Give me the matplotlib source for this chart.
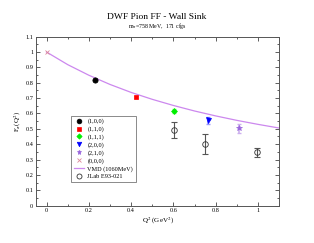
import matplotlib
matplotlib.use("Agg")
import matplotlib.pyplot as plt
from matplotlib.ticker import MultipleLocator, FixedLocator

plt.rcParams['font.family'] = ['Liberation Serif', 'DejaVu Serif']
plt.rcParams['mathtext.fontset'] = 'stix'

# Lattice data: (momentum label, Q2, F, err)
labels = ["(1,0,0)", "(1,1,0)", "(1,1,1)", "(2,0,0)", "(2,1,0)", "(0,0,0)"]
q2_lat = [0.231, 0.425, 0.601, 0.762, 0.908, 0.0]
f_lat = [0.820, 0.707, 0.618, 0.555, 0.503, 1.0]
err_lat = [0.006, 0.006, 0.012, 0.022, 0.028, 0.0]
colors = ["#000000", "#ff0000", "#00ee00", "#0000ff", "#9966dd", "#dd8899"]
err_colors = ["#888888", "#ff9999", "#88ff88", "#9999ff", "#ccb0ee", "#eebbcc"]
markers = ["o", "s", "D", "v", "*", "x"]
msizes = [3.8, 3.2, 3.0, 3.6, 4.0, 3.0]

# VMD curve (1060 MeV) values read at Q2 points
q2_vmd = [0.0, 0.1, 0.2, 0.3, 0.4, 0.5, 0.6, 0.7, 0.8, 0.9, 1.0, 1.1]
f_vmd = [1.0, 0.918, 0.849, 0.789, 0.737, 0.692, 0.652, 0.616, 0.584, 0.555, 0.529, 0.505]

# JLab E93-021
q2_jlab = [0.601, 0.748, 0.997]
f_jlab = [0.490, 0.404, 0.347]
err_jlab = [0.052, 0.065, 0.030]

xticks = [0, 0.2, 0.4, 0.6, 0.8, 1.0]
xticklabels = ["0", "0.2", "0.4", "0.6", "0.8", "1"]
yticks = [0, 0.1, 0.2, 0.3, 0.4, 0.5, 0.6, 0.7, 0.8, 0.9, 1.0, 1.1]
yticklabels = ["0", "0.1", "0.2", "0.3", "0.4", "0.5", "0.6", "0.7", "0.8", "0.9", "1", "1.1"]

fig = plt.figure(figsize=(3.14, 2.43), dpi=100)
ax = fig.add_axes([0.1146, 0.154, 0.7744, 0.695])

handles = []
for i in range(len(labels)):
    if err_lat[i] > 0:
        ax.errorbar(q2_lat[i], f_lat[i], yerr=err_lat[i], fmt='none',
                    ecolor=err_colors[i], elinewidth=1.2, capsize=1.5, capthick=1.0, zorder=3)
    h, = ax.plot(q2_lat[i], f_lat[i], linestyle='none', marker=markers[i],
                 color=colors[i], markersize=msizes[i], markeredgewidth=0.6 if markers[i] == 'x' else 0.5,
                 zorder=4, label=labels[i])
    handles.append(h)

hv, = ax.plot(q2_vmd, f_vmd, color="#cc88ee", linewidth=0.9, zorder=2, label="VMD (1060MeV)")
handles.append(hv)

ax.errorbar(q2_jlab, f_jlab, yerr=err_jlab, fmt='none', ecolor="#555555",
            elinewidth=0.8, capsize=2, capthick=0.8, zorder=3)
hj, = ax.plot(q2_jlab, f_jlab, linestyle='none', marker='o', markerfacecolor='none',
              markeredgecolor="#333333", markersize=4, markeredgewidth=0.6, zorder=4,
              label="JLab E93-021")
handles.append(hj)

ax.set_xlim(-0.05, 1.1)
ax.set_ylim(0, 1.1)
ax.xaxis.set_major_locator(FixedLocator(xticks))
ax.set_xticklabels(xticklabels)
ax.xaxis.set_minor_locator(MultipleLocator(0.1))
ax.yaxis.set_major_locator(FixedLocator(yticks))
ax.set_yticklabels(yticklabels)
ax.yaxis.set_minor_locator(MultipleLocator(0.05))
ax.tick_params(which='both', direction='in', top=True, right=True, labelsize=4.5,
               width=0.6, color="#444444", pad=2)
ax.tick_params(which='major', length=3)
ax.tick_params(which='minor', length=1.7)
for s in ax.spines.values():
    s.set_linewidth(0.7)
    s.set_color("#555555")

ax.set_xlabel(r"Q$^2$ (GeV$^2$)", fontsize=5, labelpad=2)
ax.set_ylabel(r"F$_\pi$(Q$^2$)", fontsize=5, labelpad=2)

fig.text(0.5, 0.930, "DWF Pion FF - Wall Sink", ha='center', va='center', fontsize=6.8)
fig.text(0.5, 0.893, r"m$_\pi$=758 MeV,  171 cfgs", ha='center', va='center', fontsize=4.2)

leg = ax.legend(handles=handles, loc='upper left', bbox_to_anchor=(0.132, 0.55),
                fontsize=4.5, frameon=True, fancybox=False, edgecolor="#555555",
                handlelength=1.6, handletextpad=0.6, borderpad=0.4, labelspacing=0.35,
                markerscale=0.9, numpoints=1)
leg.get_frame().set_linewidth(0.6)

fig.savefig("out.png", dpi=100)
